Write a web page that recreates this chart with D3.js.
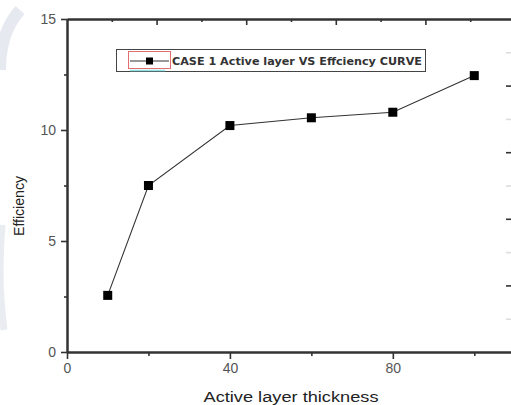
<!DOCTYPE html>
<html><head><meta charset="utf-8">
<script src="https://cdn.jsdelivr.net/npm/d3@7"></script>
<style>
html,body{margin:0;padding:0;background:#fff;}
svg{display:block;}
</style></head>
<body>
<script>
const thickness = [10, 20, 40, 60, 80, 100];
const efficiency = [2.55, 7.5, 10.2, 10.55, 10.8, 12.45];
const xTicks = [0, 40, 80];
const xMinor = [20, 60, 100];
const yTicks = [0, 5, 10, 15];
const yMinor = [2.5, 7.5, 12.5];
const topMajor = [2, 4, 6, 8, 10];
const topMinor = [1, 3, 5, 7, 9];
const rightMajor = [2, 4, 6, 8];
const rightMinor = [1, 3, 5, 7, 9];
const legendLabel = "CASE 1 Active layer VS Effciency CURVE";
const xTitle = "Active layer thickness";
const yTitle = "Efficiency";

const W = 511, H = 405;
const svg = d3.select("body").append("svg").attr("width", W).attr("height", H);
svg.append("rect").attr("width", W).attr("height", H).attr("fill", "#fff");

// faint watermark arc at the left edge
const wm = svg.append("g").attr("opacity", 0.35);
wm.append("path")
  .attr("d", "M20,10 C4,28 0,50 0,70")
  .attr("fill", "none").attr("stroke", "#b9c6d6").attr("stroke-width", 12);
wm.append("path")
  .attr("d", "M2,225 C-1,260 0,300 4,330")
  .attr("fill", "none").attr("stroke", "#c3cedc").attr("stroke-width", 7);

const x = d3.scaleLinear().domain([0, 110]).range([67, 515]);
const y = d3.scaleLinear().domain([0, 15]).range([352, 19]);
const x2 = d3.scaleLinear().domain([0, 10]).range([67, 515]);
const y2 = d3.scaleLinear().domain([0, 10]).range([352, 19]);

const axisColor = "#333";
function styleAxis(g, labels) {
  g.selectAll(".domain").attr("stroke", axisColor).attr("stroke-width", 2);
  g.selectAll(".tick line").attr("stroke", axisColor).attr("stroke-width", 1.6);
  g.selectAll(".tick text").attr("fill", "#555")
    .style("font-family", "'Liberation Sans', Arial, sans-serif").style("font-size", "14px");
  if (!labels) g.selectAll(".tick text").remove();
}

// top axis (inward ticks)
svg.append("g").attr("transform", "translate(0,19)")
  .call(d3.axisBottom(x2).tickValues(topMinor).tickSize(3).tickSizeOuter(0))
  .call(g => styleAxis(g, false));
svg.append("g").attr("transform", "translate(0,19)")
  .call(d3.axisBottom(x2).tickValues(topMajor).tickSize(6).tickSizeOuter(0))
  .call(g => styleAxis(g, false));

// right axis (inward ticks)
svg.append("g").attr("transform", "translate(515,0)")
  .call(d3.axisLeft(y2).tickValues(rightMinor).tickSize(9).tickSizeOuter(0))
  .call(g => { styleAxis(g, false); g.selectAll(".tick line").attr("stroke", "#ddd"); });
svg.append("g").attr("transform", "translate(515,0)")
  .call(d3.axisLeft(y2).tickValues(rightMajor).tickSize(9).tickSizeOuter(0))
  .call(g => styleAxis(g, false));

// bottom axis
svg.append("g").attr("transform", "translate(0,352)")
  .call(d3.axisBottom(x).tickValues(xMinor).tickSize(4).tickSizeOuter(0))
  .call(g => styleAxis(g, false));
svg.append("g").attr("transform", "translate(0,352)")
  .call(d3.axisBottom(x).tickValues(xTicks).tickSize(7).tickPadding(4).tickSizeOuter(0))
  .call(g => styleAxis(g, true));

// left axis
svg.append("g").attr("transform", "translate(67,0)")
  .call(d3.axisLeft(y).tickValues(yMinor).tickSize(3).tickSizeOuter(0))
  .call(g => styleAxis(g, false));
svg.append("g").attr("transform", "translate(67,0)")
  .call(d3.axisLeft(y).tickValues(yTicks).tickSize(6).tickPadding(5).tickSizeOuter(0))
  .call(g => styleAxis(g, true));

// axis titles
svg.append("text").attr("x", 291).attr("y", 402).attr("text-anchor", "middle")
  .attr("textLength", 175).attr("lengthAdjust", "spacingAndGlyphs")
  .attr("fill", "#222").style("font-family", "'Liberation Sans', Arial, sans-serif")
  .style("font-size", "15.5px").text(xTitle);
svg.append("text").attr("transform", "translate(24,206) rotate(-90)").attr("text-anchor", "middle")
  .attr("textLength", 60).attr("lengthAdjust", "spacingAndGlyphs")
  .attr("fill", "#222").style("font-family", "'Liberation Sans', Arial, sans-serif")
  .style("font-size", "15.5px").text(yTitle);

// data line + markers
const data = thickness.map((t, i) => ({t, e: efficiency[i]}));
svg.append("path").datum(data)
  .attr("fill", "none").attr("stroke", "#333").attr("stroke-width", 1.1)
  .attr("d", d3.line().x(d => x(d.t)).y(d => y(d.e)));
const ms = 9;
svg.selectAll("rect.pt").data(data).enter().append("rect").attr("class", "pt")
  .attr("x", d => x(d.t) - ms / 2).attr("y", d => y(d.e) - ms / 2)
  .attr("width", ms).attr("height", ms).attr("fill", "#000");

// legend
const lg = svg.append("g");
lg.append("rect").attr("x", 116.5).attr("y", 49.5).attr("width", 309).attr("height", 22)
  .attr("fill", "#fff").attr("stroke", "#444").attr("stroke-width", 1);
lg.append("rect").attr("x", 128.5).attr("y", 51.5).attr("width", 42).attr("height", 17)
  .attr("fill", "none").attr("stroke", "#e07070").attr("stroke-width", 1);
lg.append("line").attr("x1", 130).attr("x2", 165).attr("y1", 70.5).attr("y2", 70.5)
  .attr("stroke", "#8fe3e8").attr("stroke-width", 1.5);
lg.append("line").attr("x1", 130).attr("x2", 169).attr("y1", 61).attr("y2", 61)
  .attr("stroke", "#333").attr("stroke-width", 1.1);
lg.append("rect").attr("x", 146).attr("y", 57.5).attr("width", 7).attr("height", 7).attr("fill", "#000");
lg.append("text").attr("x", 172).attr("y", 65).attr("textLength", 250).attr("lengthAdjust", "spacingAndGlyphs")
  .attr("fill", "#333").style("font-family", "'DejaVu Sans', Verdana, sans-serif")
  .style("font-weight", "bold").style("font-size", "11px").text(legendLabel);
</script>
</body></html>
